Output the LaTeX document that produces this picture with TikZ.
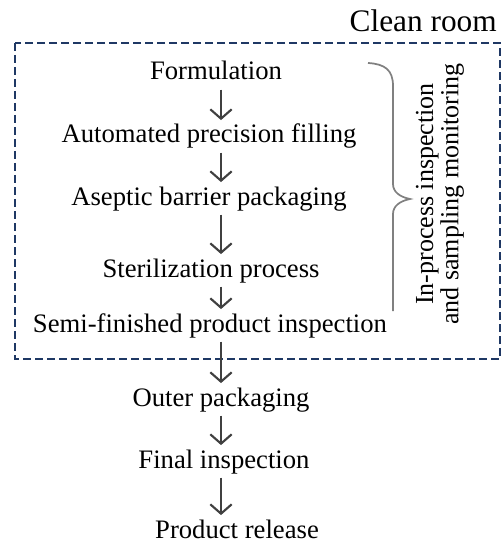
\documentclass[tikz,border=0pt]{standalone}
\usepackage{fontspec}
\setmainfont{Liberation Serif}
\usepackage{xcolor}
\usetikzlibrary{arrows.meta}

\definecolor{boxnavy}{RGB}{31,56,100}
\definecolor{arrowgray}{RGB}{64,64,64}
\definecolor{bracegray}{RGB}{128,128,128}

\begin{document}
\begin{tikzpicture}[x=0.75pt,y=0.75pt,yscale=-1,xscale=1,
  steptext/.style={anchor=base,inner xsep=0pt,inner ysep=2pt,text height=15pt,text depth=5pt,font=\fontsize{20}{24}\selectfont},
  flow/.style={draw=arrowgray,line width=1.6pt,-{Straight Barb[length=7pt,width=16pt,line width=1.6pt]}}
]
\useasboundingbox (0,0) rectangle (502,545);

%Dashed clean room frame
\draw [color=boxnavy, line width=1.6pt, dash pattern=on 6pt off 3pt] (15,43) rectangle (500,359);
% Text Node
\node (clean) at (497,32) [anchor=base east, inner sep=0pt, font=\fontsize{23.5}{28}\selectfont] {Clean room};

%Spine of the arrows
\coordinate (spine) at (221,0);

% Text Node
\node (form) at (216,80) [steptext] {Formulation};
% Text Node
\node (fill) at (209,143) [steptext] {Automated precision filling};
% Text Node
\node (pack) at (209,205) [steptext] {Aseptic barrier packaging};
% Text Node
\node (steril) at (211,277) [steptext] {Sterilization process};
% Text Node
\node (semi) at (210,332) [steptext] {Semi-finished product inspection};
% Text Node
\node (outer) at (221,406) [steptext] {Outer packaging};
% Text Node
\node (final) at (224,468) [steptext] {Final inspection};
% Text Node
\node (release) at (237,538) [steptext] {Product release};

%Straight Lines
\draw [flow] (form.south -| spine) -- (fill.north -| spine);
\draw [flow] (fill.south -| spine) -- (pack.north -| spine);
\draw [flow] (pack.south -| spine) -- (steril.north -| spine);
\draw [flow] (steril.south -| spine) -- (semi.north -| spine);
\draw [flow] (semi.south -| spine) -- (outer.north -| spine);
\draw [flow] (outer.south -| spine) -- (final.north -| spine);
\draw [flow] (final.south -| spine) -- (release.north -| spine);

%Curve Lines (brace)
\draw [color=bracegray, line width=1.3pt] (368,63) .. controls (385,64) and (393,70) .. (393,86) -- (393,184) .. controls (393,192) and (400,197) .. (410,199) .. controls (400,201) and (393,206) .. (393,214) -- (393,311);

% Text Node
\node (monitor) at (440,194) [rotate=90, align=center, inner sep=0pt, font=\fontsize{19.5}{19}\selectfont] {In-process inspection\\and sampling monitoring};
\end{tikzpicture}
\end{document}
